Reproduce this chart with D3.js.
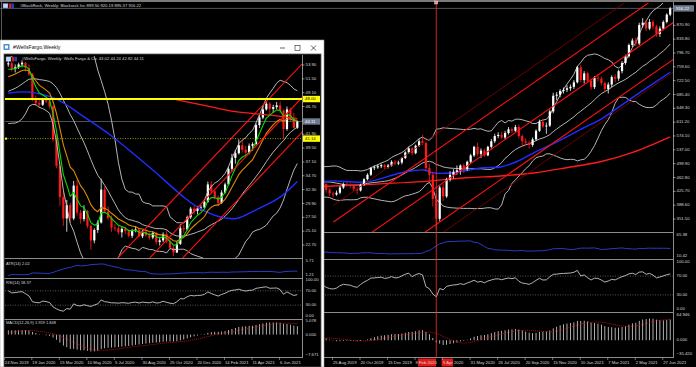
<!DOCTYPE html>
<html><head><meta charset="utf-8">
<script src="https://cdn.jsdelivr.net/npm/d3@7"></script>
<style>html,body{margin:0;padding:0;background:#000;overflow:hidden}svg{display:block}</style>
</head><body><svg id="c" width="696" height="367"></svg>
<script>
// ================= DATA: BlackRock weekly (index 0 = 17 Mar 2019) =================
const blkOpen=[425,430,427,445,455,472,482,473,445,430,
425,410,430,440,462,469,474,470,470,468,
445,430,420,417,422,436,445,442,440,432,
428,443,458,470,488,490,493,496,491,495,
505,500,503,515,530,541,528,548,560,555,
488,470,405,352,436,412,458,470,478,482,
495,486,505,522,545,526,535,522,545,560,
574,577,570,582,592,588,598,574,560,556,
550,565,588,612,600,602,640,682,685,695,
698,702,706,718,758,724,742,722,705,730,
728,716,700,712,732,728,748,770,788,818,
830,822,872,878,862,880,868,848,862,880,
899.5];
const blkHigh=[434,436,448,458,475,487,486,475,448,435,
428,433,444,465,472,479,478,475,474,470,
448,434,425,428,440,449,450,447,444,436,
446,461,474,491,495,498,500,499,499,509,
510,508,518,533,545,544,551,566,577,558,
500,478,420,442,445,462,480,485,495,498,
500,508,526,548,556,541,540,548,566,580,
584,585,588,598,597,604,605,578,568,562,
570,592,618,620,610,645,690,692,700,704,
710,712,724,762,765,748,746,728,735,740,
733,720,718,737,740,752,775,792,822,836,
838,878,890,885,888,885,872,868,884,903,
920.19];
const blkLow=[420,420,425,442,452,468,470,440,425,420,
405,408,426,438,458,465,466,462,460,440,
422,412,410,414,418,432,438,434,426,418,
425,440,455,467,483,486,488,485,487,492,
496,496,498,512,526,522,525,545,550,480,
452,385,323,345,400,408,452,460,470,470,
475,480,500,518,520,515,518,520,540,555,
568,565,565,578,582,585,568,545,548,540,
545,562,585,595,580,598,635,670,678,688,
692,695,700,715,718,715,716,698,700,720,
710,690,688,705,718,722,742,765,784,812,
815,818,865,855,858,860,840,840,858,876,
895.37];
const blkClose=[430,427,445,455,472,482,473,445,430,425,
410,430,440,462,469,474,470,470,468,445,
430,420,417,422,436,445,442,440,432,428,
443,458,470,488,490,493,496,491,495,505,
500,503,515,530,541,528,548,560,555,488,
470,405,352,436,412,458,470,478,482,495,
486,505,522,545,526,535,522,545,560,574,
577,570,582,592,588,598,574,560,556,550,
565,588,612,600,602,640,682,685,695,698,
702,706,718,758,724,742,722,705,730,728,
716,700,712,732,728,748,770,788,818,830,
822,872,878,862,880,868,848,862,880,899.5,
916.22];
// moving averages (week index, price)
const blkBlueIdx=[19,22.1,31.7,41.6,48.3,51.2,56.1,65.7,70.7,75.3,80.3,85.2,89.9,94.8,99.7,109.3,120];
const blkBlueVal=[452,453.6,451,475,483,475,475,489,491,505,529,550,572,596,618,679,745];
const blkRedIdx=[19,22.1,46.3,60.8,70.7,80.3,89.9,99.7,109.3,120];
const blkRedVal=[439,440,451,462,467,475,489,505,531,572];
// channel lines: [startIdx,startPrice,endIdx,endPrice,kind]
const blkChannels=[[22.1,343.4,120,971.6,"b"],[22.1,244,120,872.5,"b"],[22.1,145,120,773.6,"b"],[22.1,387.8,120,1016.3,"t"],[22.1,111.2,120,739.7,"t"]];
const blkTickIdx=[23,31,39,47,55,63,71,79,87,95,103,111,119];
const blkTickLabels=["25 Aug 2019","20 Oct 2019","15 Dec 2019","9 Feb 2020","5 Apr 2020","31 May 2020","26 Jul 2020","20 Sep 2020","15 Nov 2020","10 Jan 2021","7 Mar 2021","2 May 2021","27 Jun 2021"];
const blkPriceTicks=[870.9,833.8,796.7,759.6,722.5,685.4,648.3,611.2,574.1,537.0,499.9,462.8,425.7,388.6,351.5];
const blkAtrTicks=[65.38,10.42], blkRsiTicks=[100,70,30,0], blkMacdTicks=[64.946,0,-35.42];
const blkMarkerIdx=52;

// ================= DATA: Wells Fargo weekly (index 0 = 24 Nov 2019) =================
const wfcPreClose=[48.0,48.5,47.0,46.0,45.0,44.5,46.5,47.5,49.5,49.3,50.0,49.5,49.0,49.5,50.8,51.5,53.0,53.5,54.0];
const wfcOpen=[54.0,54.2,53.2,53.5,54.0,54.3,53.4,52.3,48.1,47.3,
47.0,48.0,47.6,46.7,41.0,36.4,31.0,27.3,29.6,27.3,
33.0,28.3,27.2,28.6,26.0,23.5,25.3,26.6,32.3,28.5,
27.4,25.7,25.6,24.9,25.5,25.1,24.3,25.2,25.4,24.2,
25.0,24.4,24.0,24.8,23.2,23.5,24.6,23.3,22.2,21.4,
22.9,25.6,25.4,27.5,29.0,28.6,29.1,29.2,30.2,33.2,
32.0,31.0,30.0,31.8,33.2,35.9,37.8,38.6,40.0,39.2,
38.7,39.9,40.2,43.5,44.8,46.2,47.2,46.3,46.6,46.9,
46.0,42.8,46.2,44.6,43.02];
const wfcHigh=[54.6,54.5,54.0,54.3,54.7,54.4,54.0,52.5,48.6,47.8,
48.2,48.6,48.0,46.9,42.0,37.0,32.0,30.5,30.0,33.8,
34.0,28.8,29.6,28.8,26.3,25.6,27.0,34.2,32.8,29.4,
27.8,26.3,26.0,25.8,25.9,25.4,25.5,26.0,25.6,25.3,
25.4,24.9,25.1,25.0,24.1,24.9,25.2,23.9,22.7,23.3,
26.3,26.2,27.8,29.3,29.5,29.5,29.6,30.6,33.7,33.8,
32.3,31.3,32.2,33.5,36.3,38.5,39.2,41.0,40.8,39.9,
40.3,40.5,43.8,45.2,46.8,47.6,47.5,47.0,47.5,47.6,
46.2,46.7,46.5,45.6,44.24];
const wfcLow=[53.6,52.8,52.6,53.2,53.5,52.8,52.0,47.6,46.8,46.5,
46.8,47.3,46.3,40.6,36.0,29.5,26.0,25.0,26.6,27.0,
27.8,26.4,26.8,25.6,21.9,23.0,24.8,26.4,28.2,27.0,
25.0,25.1,24.5,24.0,24.6,24.0,23.9,24.9,24.0,23.9,
24.1,23.6,23.7,22.8,22.6,23.2,23.0,21.9,20.8,21.3,
22.7,24.8,25.2,27.2,28.0,28.0,28.6,29.0,30.0,31.5,
30.6,29.4,29.8,31.6,33.0,35.5,36.8,38.4,38.7,38.2,
38.4,39.0,40.0,43.0,44.5,46.0,45.3,45.6,46.2,45.6,
41.2,42.5,44.2,42.9,42.82];
const wfcClose=[54.2,53.2,53.5,54.0,54.3,53.4,52.3,48.1,47.3,47.0,
48.0,47.6,46.7,41.0,36.4,31.0,27.3,29.6,27.3,33.0,
28.3,27.2,28.6,26.0,23.5,25.3,26.6,32.3,28.5,27.4,
25.7,25.6,24.9,25.5,25.1,24.3,25.2,25.4,24.2,25.0,
24.4,24.0,24.8,23.2,23.5,24.6,23.3,22.2,21.4,22.9,
25.6,25.4,27.5,29.0,28.6,29.1,29.2,30.2,33.2,32.0,
31.0,30.0,31.8,33.2,35.9,37.8,38.6,40.0,39.2,38.7,
39.9,40.2,43.5,44.8,46.2,47.2,46.3,46.6,46.9,46.0,
42.8,46.2,44.6,43.02,44.11];
const wfcBlueIdx=[0,6,14,22,30,42,51,55.5,61.4,66.3,72,79,84];
const wfcBlueVal=[49.0,49.2,48.0,44.9,41.6,35.7,31.0,29.1,27.6,27.3,28.8,31.0,33.7];
const wfcRedIdx=[48.7,57,66,76,84];
const wfcRedVal=[47.9,46.9,45.8,45.2,44.6];
const wfcChannels=[[31.8,20.45,88,55.74],[41.1,20.45,88,49.9],[50.7,20.45,88,43.9]];
const wfcLevels={resist:48.00,support:41.14,last:44.11};
const wfcTickIdx=[0,8,16,24,32,40,48,56,64,72,80];
const wfcTickLabels=["24 Nov 2019","19 Jan 2020","15 Mar 2020","10 May 2020","5 Jul 2020","30 Aug 2020","25 Oct 2020","20 Dec 2020","14 Feb 2021","11 Apr 2021","6 Jun 2021"];
const wfcPriceTicks=[53.9,51.5,49.1,46.7,44.3,41.9,39.5,37.1,34.7,32.3,29.9,27.5,25.1,22.7];
const wfcAtrTicks=[5.71,1.21], wfcRsiTicks=[100,70,30,0], wfcMacdTicks=[5.078,0,-7.671];

// ================= indicator helpers =================
function ema(a,n){const k=2/(n+1),r=[];a.forEach((v,i)=>r.push(i?k*v+(1-k)*r[i-1]:v));return r;}
function bands(a,n,d){return a.map((v,i)=>{if(i<n-1)return null;let s=0;for(let j=i-n+1;j<=i;j++)s+=a[j];const m=s/n;let q=0;for(let j=i-n+1;j<=i;j++)q+=(a[j]-m)**2;const sd=Math.sqrt(q/n);return [m+d*sd,m,m-d*sd];});}
function rsi(a,n){const r=a.map(()=>null);let g=0,l=0;for(let i=1;i<a.length;i++){const ch=a[i]-a[i-1],up=Math.max(ch,0),dn=Math.max(-ch,0);if(i<=n){g+=up;l+=dn;if(i===n){g/=n;l/=n;r[i]=100-100/(1+g/(l||1e-9));}}else{g=(g*(n-1)+up)/n;l=(l*(n-1)+dn)/n;r[i]=100-100/(1+g/(l||1e-9));}}return r;}
function atr(h,l,c,n){const tr=h.map((v,i)=>i?Math.max(v,c[i-1])-Math.min(l[i],c[i-1]):v-l[i]);return tr.map((v,i)=>{const s=Math.max(0,i-n+1);let t=0;for(let j=s;j<=i;j++)t+=tr[j];return t/(i-s+1);});}
function macd(c){const a=ema(c,12),b=ema(c,26),m=c.map((v,i)=>a[i]-b[i]);const sig=m.map((v,i)=>{const s=Math.max(0,i-8);let t=0;for(let j=s;j<=i;j++)t+=m[j];return t/(i-s+1);});return {m,sig};}

const svg=d3.select('#c');
const defs=svg.append('defs');
function clip(id,x,y,w,h){defs.append('clipPath').attr('id',id).append('rect').attr('x',x).attr('y',y).attr('width',w).attr('height',h);return 'url(#'+id+')';}
const FONT='"Liberation Sans",Arial,sans-serif';
const LBL='#d8d8d8', SEP='#8c8c8c';
const f2=d3.format('.2f');

function drawCandles(g,x,y,O,Hh,L,C,bw){
  const idx=d3.range(O.length);
  g.selectAll('line.w').data(idx).join('line').attr('class','w')
    .attr('x1',i=>x(i)).attr('x2',i=>x(i)).attr('y1',i=>y(Hh[i])).attr('y2',i=>y(L[i]))
    .attr('stroke',i=>C[i]>=O[i]?'#ffffff':'#ff1a1a').attr('stroke-width',0.8);
  g.selectAll('rect.b').data(idx).join('rect').attr('class','b')
    .attr('x',i=>x(i)-bw/2).attr('y',i=>y(Math.max(O[i],C[i])))
    .attr('width',bw).attr('height',i=>Math.max(0.8,y(Math.min(O[i],C[i]))-y(Math.max(O[i],C[i]))))
    .attr('fill',i=>C[i]>=O[i]?'#ffffff':'#ff1a1a');
}
function path(g,pts,x,y,col,w,curve,dash){
  const ln=d3.line().defined(d=>d[1]!=null&&!isNaN(d[1])).x(d=>x(d[0])).y(d=>y(d[1]));
  if(curve)ln.curve(curve);
  const p=g.append('path').attr('d',ln(pts)).attr('fill','none').attr('stroke',col).attr('stroke-width',w);
  if(dash)p.attr('stroke-dasharray',dash);
  return p;
}
function txt(g,x,y,s,opt){opt=opt||{};return g.append('text').attr('x',x).attr('y',y).text(s)
  .attr('font-family',FONT).attr('font-size',opt.size||4.3).attr('fill',opt.fill||LBL)
  .attr('dominant-baseline',opt.base||'middle').attr('text-anchor',opt.anchor||'start');}
function flags(g,x,y){
  g.append('rect').attr('x',x).attr('y',y).attr('width',5).attr('height',4.5).attr('fill','#c9d4f5').attr('stroke','#6070c0').attr('stroke-width',0.4);
  g.append('rect').attr('x',x+6).attr('y',y).attr('width',2.5).attr('height',4.5).attr('fill','#d02020');
  g.append('rect').attr('x',x+8.5).attr('y',y).attr('width',2.5).attr('height',4.5).attr('fill','#2040c0');
}

// ================= RIGHT CHART (BlackRock) =================
const R=svg.append('g');
R.append('rect').attr('width',696).attr('height',367).attr('fill','#000');
R.append('rect').attr('x',0).attr('y',0).attr('width',696).attr('height',2).attr('fill','#7a7a7a');
R.append('line').attr('x1',1.5).attr('x2',1.5).attr('y1',2).attr('y2',40).attr('stroke','#5a5a5a');
flags(R,3,3.5);
txt(R,20,6.2,'#BlackRock, Weekly:  Blackrock Inc  899.50 920.19 895.37 916.22',{size:4.2});

const xR=d3.scaleLinear().domain([23,120]).range([336.5,670.2]);
const yR=d3.scaleLinear().domain([351.5,870.9]).range([219,25.3]);
const gRm=R.append('g').attr('clip-path',clip('cRm',0,3,673,229));
const bbR=bands(blkClose,20,2);
const iR=d3.range(blkClose.length);
// current price line
gRm.append('line').attr('x1',0).attr('x2',673).attr('y1',yR(blkClose[120])).attr('y2',yR(blkClose[120])).attr('stroke','#6f7884').attr('stroke-width',0.7);
[0,1,2].forEach(k=>path(gRm,iR.map(i=>[i,bbR[i]?bbR[i][k]:null]),xR,yR,'#c8c8c8',0.9));
path(gRm,blkRedIdx.map((v,i)=>[v,blkRedVal[i]]),xR,yR,'#ff1a1a',1.4,d3.curveCatmullRom);
path(gRm,blkBlueIdx.map((v,i)=>[v,blkBlueVal[i]]),xR,yR,'#1f2fff',1.4,d3.curveCatmullRom);
drawCandles(gRm.append('g'),xR,yR,blkOpen,blkHigh,blkLow,blkClose,2.2);
blkChannels.forEach(c=>{
  const s=(c[3]-c[1])/(c[2]-c[0]);
  gRm.append('line').attr('x1',xR(c[0])).attr('y1',yR(c[1])).attr('x2',xR(124)).attr('y2',yR(c[1]+s*(124-c[0])))
    .attr('stroke',c[4]==='b'?'#ff1010':'#8a0000').attr('stroke-width',c[4]==='b'?1.1:0.8);
});
// lower panels
const yRatr=d3.scaleLinear().domain([10.42,65.38]).range([256,235]);
const yRrsi=d3.scaleLinear().domain([0,100]).range([309,262]);
const yRmacd=d3.scaleLinear().domain([-35.42,64.946]).range([354,315]);
const atrR=atr(blkHigh,blkLow,blkClose,14), rsiR=rsi(blkClose,14), mR=macd(blkClose);
const gRa=R.append('g').attr('clip-path',clip('cRa',0,233,673,25));
path(gRa,iR.map(i=>[i,atrR[i]]),xR,yRatr,'#2a3cc8',1);
const gRr=R.append('g').attr('clip-path',clip('cRr',0,260,673,51));
[70,30].forEach(v=>gRr.append('line').attr('x1',0).attr('x2',673).attr('y1',yRrsi(v)).attr('y2',yRrsi(v)).attr('stroke','#909090').attr('stroke-width',0.6).attr('stroke-dasharray','1,1.5'));
path(gRr,iR.map(i=>[i,rsiR[i]]),xR,yRrsi,'#e0e0e0',0.8);
const gRd=R.append('g').attr('clip-path',clip('cRd',0,313,673,44));
gRd.selectAll('rect').data(iR).join('rect').attr('x',i=>xR(i)-0.4).attr('width',0.8)
  .attr('y',i=>Math.min(yRmacd(0),yRmacd(mR.m[i]))).attr('height',i=>Math.abs(yRmacd(mR.m[i])-yRmacd(0))).attr('fill','#d8d8d8');
path(gRd,iR.map(i=>[i,mR.sig[i]]),xR,yRmacd,'#e01010',0.8,null,'1,1');
// separators and axis
[232.5,259.5,312.5,357.5].forEach(y=>R.append('line').attr('x1',0).attr('x2',673).attr('y1',y).attr('y2',y).attr('stroke',SEP).attr('stroke-width',1.2));
R.append('line').attr('x1',673.5).attr('x2',673.5).attr('y1',2).attr('y2',358).attr('stroke',SEP).attr('stroke-width',1);
blkPriceTicks.forEach(v=>{R.append('line').attr('x1',673).attr('x2',675.5).attr('y1',yR(v)).attr('y2',yR(v)).attr('stroke',LBL).attr('stroke-width',0.6);txt(R,676.5,yR(v),f2(v));});
R.append('rect').attr('x',674).attr('y',yR(blkClose[120])-3.2).attr('width',20).attr('height',6.4).attr('fill','#6c7a8c');
txt(R,676,yR(blkClose[120]),f2(blkClose[120]),{fill:'#ffffff'});
blkAtrTicks.forEach(v=>txt(R,676.5,yRatr(v),f2(v)));
blkRsiTicks.forEach(v=>txt(R,676.5,yRrsi(v),f2(v)));
blkMacdTicks.forEach(v=>txt(R,676.5,yRmacd(v),d3.format('.3f')(v)));
// date axis
R.append('rect').attr('x',xR(47)-1).attr('y',358.5).attr('width',18).attr('height',8).attr('fill','#e01a1a');
R.append('rect').attr('x',xR(55)-5).attr('y',358.5).attr('width',11.5).attr('height',8).attr('fill','#e01a1a');
blkTickIdx.forEach((j,k)=>{R.append('line').attr('x1',xR(j)-4).attr('x2',xR(j)-4).attr('y1',357.5).attr('y2',360).attr('stroke',LBL).attr('stroke-width',0.5);txt(R,xR(j)-3.5,363,blkTickLabels[k],{size:4.2});});
// vertical marker line
R.append('line').attr('x1',xR(blkMarkerIdx)).attr('x2',xR(blkMarkerIdx)).attr('y1',2).attr('y2',358).attr('stroke','#ff2a2a').attr('stroke-width',0.8);
R.append('rect').attr('x',xR(blkMarkerIdx)-1.5).attr('y',1).attr('width',3).attr('height',3).attr('fill','#ff8080').attr('stroke','#fff').attr('stroke-width',0.4);

// ================= LEFT WINDOW (Wells Fargo) =================
const L=svg.append('g');
L.append('rect').attr('x',0).attr('y',40).attr('width',324).attr('height',327).attr('fill','#ffffff').attr('stroke','#9a9a9a').attr('stroke-width',0.6);
L.append('rect').attr('x',4).attr('y',41).attr('width',6).attr('height',6).attr('x',3.5).attr('y',44).attr('fill','#4a8fd8');
L.append('rect').attr('x',5).attr('y',45.5).attr('width',3).attr('height',3).attr('fill','#ffffff');
txt(L,13,48,'#WellsFargo,Weekly',{size:5.2,fill:'#111'});
L.append('line').attr('x1',280).attr('x2',285).attr('y1',48).attr('y2',48).attr('stroke','#222').attr('stroke-width',0.7);
L.append('rect').attr('x',295).attr('y',45.5).attr('width',5).attr('height',5).attr('fill','none').attr('stroke','#222').attr('stroke-width',0.6);
L.append('line').attr('x1',311).attr('x2',316).attr('y1',45.5).attr('y2',50.5).attr('stroke','#222').attr('stroke-width',0.7);
L.append('line').attr('x1',316).attr('x2',311).attr('y1',45.5).attr('y2',50.5).attr('stroke','#222').attr('stroke-width',0.7);
L.append('rect').attr('x',4).attr('y',54).attr('width',317).attr('height',313).attr('fill','#000').attr('stroke','#5a5a5a').attr('stroke-width',0.8);
flags(L,6,56.8);
txt(L,22,59.3,'#WellsFargo, Weekly:  Wells Fargo & Co.  43.02 44.24 42.82 44.11',{size:4.2});

const xL=d3.scaleLinear().domain([0,84]).range([8.3,297.3]);
const yL=d3.scaleLinear().domain([22.7,53.9]).range([245,65]);
const P=wfcPreClose.length;
const allC=wfcPreClose.concat(wfcClose);
const bbL=bands(allC,20,2).slice(P), eG=ema(allC,5).slice(P), eO=ema(allC,10).slice(P);
const rsiL=rsi(allC,14).slice(P); const mLall=macd(allC); const mLm=mLall.m.slice(P), mLs=mLall.sig.slice(P);
const atrL=atr(wfcHigh,wfcLow,wfcClose,14);
const iL=d3.range(wfcClose.length);
const gLm=L.append('g').attr('clip-path',clip('cLm',5,56,297,202));
gLm.append('line').attr('x1',5).attr('x2',302).attr('y1',yL(wfcLevels.last)).attr('y2',yL(wfcLevels.last)).attr('stroke','#6f7884').attr('stroke-width',0.7);
drawCandles(gLm.append('g'),xL,yL,wfcOpen,wfcHigh,wfcLow,wfcClose,2.2);
[0,1,2].forEach(k=>path(gLm,iL.map(i=>[i,bbL[i]?bbL[i][k]:null]),xL,yL,'#c8c8c8',0.9));
path(gLm,wfcBlueIdx.map((v,i)=>[v,wfcBlueVal[i]]),xL,yL,'#1f2fff',1.4,d3.curveCatmullRom);
path(gLm,wfcRedIdx.map((v,i)=>[v,wfcRedVal[i]]),xL,yL,'#ff1a1a',1.3,d3.curveCatmullRom);
path(gLm,iL.map(i=>[i,eO[i]]),xL,yL,'#e08a00',1.1);
path(gLm,iL.map(i=>[i,eG[i]]),xL,yL,'#00e000',1.1);
wfcChannels.forEach(c=>gLm.append('line').attr('x1',xL(c[0])).attr('y1',yL(c[1])).attr('x2',xL(c[2])).attr('y2',yL(c[3])).attr('stroke','#ff1010').attr('stroke-width',1.1));
gLm.append('line').attr('x1',5).attr('x2',302).attr('y1',yL(wfcLevels.resist)).attr('y2',yL(wfcLevels.resist)).attr('stroke','#ffff00').attr('stroke-width',2);
gLm.append('line').attr('x1',5).attr('x2',302).attr('y1',yL(wfcLevels.support)).attr('y2',yL(wfcLevels.support)).attr('stroke','#d8d800').attr('stroke-width',0.7).attr('stroke-dasharray','1,1.5');
L.append('rect').attr('x',5).attr('y',yL(wfcLevels.support)-1).attr('width',2).attr('height',2).attr('fill','#ffff00');
// lower panels
const yLatr=d3.scaleLinear().domain([1.21,5.71]).range([275,261]);
const yLrsi=d3.scaleLinear().domain([0,100]).range([316,280]);
const yLmacd=d3.scaleLinear().domain([-7.671,5.078]).range([355,321]);
const gLa=L.append('g').attr('clip-path',clip('cLa',5,259,297,19));
path(gLa,iL.map(i=>[i,atrL[i]]),xL,yLatr,'#2a3cc8',1);
const gLr=L.append('g').attr('clip-path',clip('cLr',5,279,297,39));
[70,30].forEach(v=>gLr.append('line').attr('x1',5).attr('x2',302).attr('y1',yLrsi(v)).attr('y2',yLrsi(v)).attr('stroke','#909090').attr('stroke-width',0.6).attr('stroke-dasharray','1,1.5'));
path(gLr,iL.map(i=>[i,rsiL[i]]),xL,yLrsi,'#e0e0e0',0.8);
const gLd=L.append('g').attr('clip-path',clip('cLd',5,320,297,37));
gLd.selectAll('rect').data(iL).join('rect').attr('x',i=>xL(i)-0.4).attr('width',0.8)
  .attr('y',i=>Math.min(yLmacd(0),yLmacd(mLm[i]))).attr('height',i=>Math.abs(yLmacd(mLm[i])-yLmacd(0))).attr('fill','#d8d8d8');
path(gLd,iL.map(i=>[i,mLs[i]]),xL,yLmacd,'#e01010',0.8,null,'1,1');
txt(L,6,263.5,'ATR(14) 2.02',{size:4});
txt(L,6,282.5,'RSI(14) 58.37',{size:4});
txt(L,6,323,'MACD(12,26,9) 1.959 1.848',{size:4});
[258.5,278.5,319.5,357.5].forEach(y=>L.append('line').attr('x1',4.5).attr('x2',302).attr('y1',y).attr('y2',y).attr('stroke',SEP).attr('stroke-width',1.2));
L.append('line').attr('x1',302.5).attr('x2',302.5).attr('y1',55).attr('y2',358).attr('stroke',SEP).attr('stroke-width',1);
wfcPriceTicks.forEach(v=>{L.append('line').attr('x1',302).attr('x2',304.5).attr('y1',yL(v)).attr('y2',yL(v)).attr('stroke',LBL).attr('stroke-width',0.6);txt(L,305.5,yL(v),f2(v));});
[[wfcLevels.resist,'#ffff00','#000'],[wfcLevels.support,'#ffff00','#000'],[wfcLevels.last,'#6c7a8c','#fff']].forEach(a=>{
  L.append('rect').attr('x',303).attr('y',yL(a[0])-3.2).attr('width',17).attr('height',6.4).attr('fill',a[1]);
  txt(L,305,yL(a[0]),f2(a[0]),{fill:a[2]});
});
wfcAtrTicks.forEach(v=>txt(L,305.5,yLatr(v),f2(v)));
wfcRsiTicks.forEach(v=>txt(L,305.5,yLrsi(v),f2(v)));
wfcMacdTicks.forEach(v=>txt(L,305.5,yLmacd(v),d3.format('.3f')(v)));
wfcTickIdx.forEach((i,k)=>{L.append('line').attr('x1',xL(i)-4).attr('x2',xL(i)-4).attr('y1',357.5).attr('y2',360).attr('stroke',LBL).attr('stroke-width',0.5);txt(L,xL(i)-3.5,363,wfcTickLabels[k],{size:4.2});});
</script></body></html>
